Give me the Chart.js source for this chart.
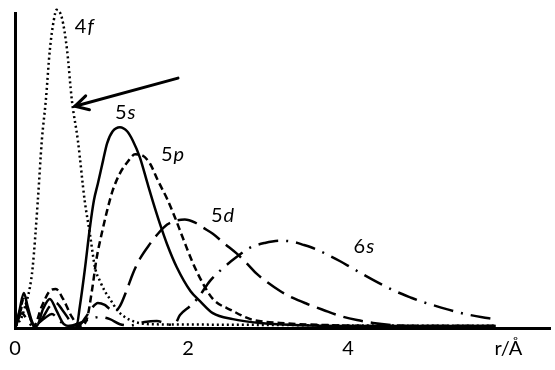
<!DOCTYPE html>
<html>
<head>
<meta charset="utf-8">
<script src="https://cdn.jsdelivr.net/npm/chart.js@4"></script>
<style>
  html,body{margin:0;padding:0;background:#fff;}
  #wrap{width:555px;height:370px;}
</style>
</head>
<body>
<div id="wrap"><canvas id="rdf"></canvas></div>
<script>
// radial distribution, r in Å, relative height
const r4f=[-0.15,-0.075,-0.04,0.025,0.06,0.125,0.175,0.225,0.275,0.325,0.36,0.425,0.49,0.55,0.625,0.71,0.775,0.84,0.9,0.96,1.025,1.125,1.21,1.34,1.525,1.9,2.775,4.025,5.84];
const v4f=[0,2.9,5.7,12.1,18.4,39.7,58.7,71.4,87.3,96.8,100,97.5,87.3,71.4,58.7,39.7,29.2,18.4,14.3,11.1,8.6,4.8,2.9,1.3,0.6,0.5,0.4,0.2,0.1];

const r5s=[-0.15,-0.1,-0.05,0,0.06,0.11,0.19,0.275,0.36,0.45,0.525,0.61,0.65,0.71,0.775,0.825,0.875,0.94,0.99,1.06,1.15,1.24,1.31,1.4,1.49,1.56,1.65,1.74,1.86,2.03,2.15,2.31,2.56,2.9,3.4,4.65,5.84];
const v5s=[0,5.4,10.5,6.0,1.0,0,5.4,8.6,4.8,0.6,0,0.3,6.3,17.5,31.1,39.7,45.1,52.4,57.8,61.6,62.9,61.6,58.7,53.3,45.5,39.5,32.3,25.8,18.6,11.1,7.9,4.1,2.2,1.0,0.3,0,0];

const r5p=[-0.15,-0.1,-0.05,0.01,0.075,0.175,0.275,0.35,0.44,0.55,0.65,0.74,0.8,0.86,0.925,0.99,1.06,1.15,1.24,1.34,1.425,1.525,1.625,1.74,1.84,1.94,2.06,2.19,2.31,2.56,2.78,3.15,3.78,4.65,5.84];
const v5p=[0,4.8,8.6,4.1,0,6.3,11.1,11.7,8.6,2.9,0,2.5,11.1,21.6,29.5,36.5,42.9,48.3,51.7,54.3,54.0,51.4,46.0,40.2,34.2,27.6,20.0,13.3,8.6,4.8,2.2,1.0,0.3,0,0];

const r5d=[-0.15,-0.1,-0.05,0.01,0.075,0.175,0.275,0.35,0.44,0.55,0.625,0.725,0.8,0.875,0.96,1.025,1.09,1.15,1.24,1.31,1.4,1.525,1.625,1.74,1.84,1.96,2.09,2.19,2.31,2.46,2.61,2.74,2.86,3.0,3.15,3.31,3.49,3.69,3.9,4.11,4.31,4.56,4.81,5.84];
const v5d=[0,4.1,7.3,4.1,0,2.2,6.3,7.3,4.8,1.0,0,2.9,5.7,7.3,6.7,5.4,4.8,6.3,11.7,16.5,21.3,26.0,29.2,32.1,33.3,33.7,32.7,31.1,29.2,26.0,22.9,19.7,16.5,13.7,11.1,8.9,7.0,5.1,3.2,1.9,1.0,0.3,0,0];

const r6s=[-0.15,-0.075,-0.0125,0.06,0.21,0.3,0.4,0.5,0.65,0.775,0.9,1.025,1.15,1.275,1.46,1.61,1.75,1.825,1.9,2.025,2.125,2.275,2.44,2.61,2.775,2.96,3.15,3.3,3.44,3.59,3.74,3.9,4.025,4.175,4.31,4.46,4.61,4.775,4.9,5.09,5.24,5.4,5.525,5.675,5.8];
const v6s=[0,4.1,2.2,0,2.5,3.8,1.6,0,1.0,2.2,2.9,2.2,0.6,0.2,1.3,1.6,0.6,0.3,3.5,6.3,8.9,14.3,18.4,21.9,24.8,26.3,27.0,26.7,25.7,24.4,22.6,20.5,18.7,16.5,14.6,12.6,10.8,9.1,7.9,6.4,5.3,4.2,3.5,2.8,2.3];

const xTicks=[-0.16,2,4,6];
const xTickLabels=['0','2','4','r/Å'];

// orbital names: main part + italic letter
const tags=[
  {n:'4',l:'f',x:0.7,y:94.6},
  {n:'5',l:'s',x:1.21,y:67.6},
  {n:'5',l:'p',x:1.8,y:54.3},
  {n:'5',l:'d',x:2.425,y:35.0},
  {n:'6',l:'s',x:4.19,y:25.2}
];
const arrow={x0:1.875,y0:78.4,x1:0.5875,y1:69.5};

const FONT='Lato, "Open Sans", sans-serif';
const pts=(rs,vs)=>rs.map((r,i)=>({x:r,y:vs[i]}));

const ds=(label,rs,vs,dash)=>({label,data:pts(rs,vs),borderColor:'#000',borderWidth:2.5,
  borderDash:dash,pointRadius:0,cubicInterpolationMode:'monotone',fill:false,clip:false});

const notes={id:'notes',afterDatasetsDraw(chart){
  const c=chart.ctx,X=chart.scales.x,Y=chart.scales.y;
  c.save();
  c.fillStyle='#000';c.textBaseline='middle';
  tags.forEach(t=>{
    c.font='20px '+FONT;
    const w1=c.measureText(t.n).width;
    c.font='italic 20px '+FONT;
    const w2=c.measureText(t.l).width;
    let px=X.getPixelForValue(t.x)-(w1+w2)/2,py=Y.getPixelForValue(t.y);
    c.textAlign='left';
    c.font='20px '+FONT;c.fillText(t.n,px,py);
    c.font='italic 20px '+FONT;c.fillText(t.l,px+w1+1,py);
  });
  // arrow
  const ax0=X.getPixelForValue(arrow.x0),ay0=Y.getPixelForValue(arrow.y0);
  const ax1=X.getPixelForValue(arrow.x1),ay1=Y.getPixelForValue(arrow.y1);
  const a=Math.atan2(ay0-ay1,ax0-ax1);
  c.strokeStyle='#000';c.lineWidth=3;c.lineCap='round';
  c.beginPath();c.moveTo(ax0,ay0);c.lineTo(ax1,ay1);c.stroke();
  c.beginPath();
  c.moveTo(ax1+15*Math.cos(a-0.5),ay1+15*Math.sin(a-0.5));
  c.lineTo(ax1,ay1);
  c.lineTo(ax1+15*Math.cos(a+0.5),ay1+15*Math.sin(a+0.5));
  c.stroke();
  c.restore();
}};

new Chart(document.getElementById('rdf'),{type:'line',
  data:{datasets:[
    ds('4f',r4f,v4f,[2,3]),
    ds('5s',r5s,v5s,[]),
    ds('5p',r5p,v5p,[7,4]),
    ds('5d',r5d,v5d,[20,8]),
    ds('6s',r6s,v6s,[20,8,2,8])
  ]},
  options:{responsive:true,maintainAspectRatio:false,animation:false,
    layout:{padding:{left:15,right:5,top:13,bottom:0}},
    plugins:{legend:{display:false},tooltip:{enabled:false}},
    scales:{
      x:{type:'linear',min:-0.16,max:6.52,grid:{display:false,drawTicks:false},border:{color:'#000',width:3},
        afterBuildTicks:s=>{s.ticks=xTicks.map(v=>({value:v}));},
        ticks:{autoSkip:false,maxRotation:0,padding:9,color:'#000',font:{family:FONT,size:20},
          callback:(v,i)=>xTickLabels[i]}},
      y:{min:-0.6,max:99,grid:{display:false,drawTicks:false},border:{color:'#000',width:3},ticks:{display:false}}
    }},
  plugins:[notes]
});
</script>
</body>
</html>
